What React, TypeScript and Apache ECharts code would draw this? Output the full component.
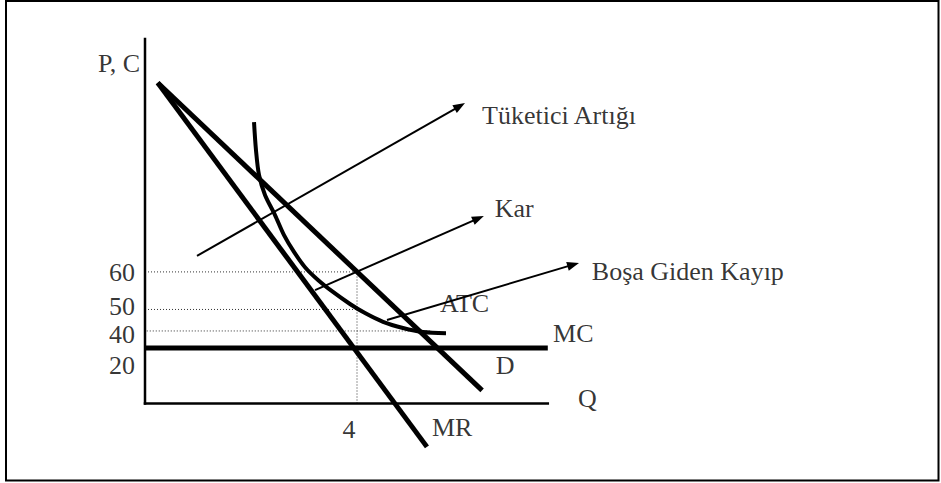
import React, { useEffect, useRef } from "react";
import * as echarts from "echarts";

// Schematic monopoly diagram. Quantity (Q) and price/cost (P, C) in diagram units.
const Q_AXIS_END = 7.6;
const P_AXIS_END = 100;
const Q_VIEW_MAX = 13;

const axisQ = [[0, 0], [Q_AXIS_END, 0]];
const axisP = [[0, 0], [0, P_AXIS_END]];
const demandD = [[0.24, 88], [6.36, 3.6]];
const marginalRevenueMR = [[0.24, 88], [5.32, -11.9]];
const marginalCostMC = [[0, 15.2], [7.6, 15.2]];
const averageTotalCostATC = [
  [2.057, 77.2], [2.094, 69.5], [2.151, 62.7], [2.264, 57.2], [2.453, 51.7],
  [2.623, 46.2], [2.811, 41.6], [3.019, 37.4], [3.264, 33.9], [3.547, 30.6],
  [3.868, 27.3], [4.151, 24.8], [4.491, 22.4], [4.868, 20.7], [5.245, 19.6],
  [5.679, 19.3],
];

const guide60 = [[0, 36.1], [4, 36.1]];
const guide50 = [[0, 25.8], [4, 25.8]];
const guide40 = [[-0.08, 19.9], [5.4, 19.9]];
const guideQ4 = [[4, 0], [4, 36.1]];

// Tick labels on the price axis (right-aligned)
const yTickLabels = ["60", "50", "40", "20"];
const yTickAnchors = [[-0.19, 36.0], [-0.19, 26.7], [-0.19, 18.9], [-0.19, 10.3]];
const axisTitleP = { text: "P, C", at: [-0.094, 93.4] };
// Tick label on the quantity axis (centered)
const xTickLabels = ["4"];
const xTickAnchors = [[3.85, -7.1]];
// Curve and area labels (left-aligned)
const curveLabels = ["MR", "Q", "D", "MC", "ATC", "Kar", "Tüketici Artığı", "Boşa Giden Kayıp"];
const curveLabelAnchors = [
  [5.415, -6.7], [8.17, 1.5], [6.62, 10.3], [7.7, 19.1], [5.566, 27.3],
  [6.6, 53.4], [6.36, 79.1], [8.43, 36.3],
];
// Annotation arrows: from -> to
const arrowFrom = [[0.981, 40.5], [3.208, 31.1], [4.566, 22.9]];
const arrowTo = [[5.94, 81.6], [6.29, 50.8], [8.08, 38.1]];

const FONT = "Liberation Serif, Times New Roman, serif";

export default function App() {
  const ref = useRef<HTMLDivElement>(null);
  useEffect(() => {
    if (!ref.current) return;
    const chart = echarts.init(ref.current, undefined, { renderer: "svg" });
    const thick = (data: number[][], width: number) => ({
      type: "line",
      data,
      symbol: "none",
      clip: false,
      silent: true,
      z: 3,
      smooth: false,
      lineStyle: { color: "#000", width, cap: "butt", join: "miter" },
    });
    const dotted = (data: number[][]) => ({
      type: "line",
      data,
      symbol: "none",
      clip: false,
      silent: true,
      z: 1,
      lineStyle: { color: "#333", width: 1, type: [1, 2] },
    });
    const labelSeries = (texts: string[], anchors: number[][], align: string) => ({
      type: "scatter",
      clip: false,
      silent: true,
      symbolSize: 0.1,
      itemStyle: { color: "rgba(0,0,0,0)" },
      z: 5,
      data: texts.map((t, i) => ({ name: t, value: anchors[i] })),
      label: {
        show: true,
        position: "inside",
        align,
        verticalAlign: "middle",
        formatter: (p: any) => p.name,
        color: "#000",
        fontFamily: FONT,
        fontSize: 26,
      },
    });
    chart.setOption({
      animation: false,
      backgroundColor: "#fff",
      grid: { left: 145, top: 39, width: 53 * Q_VIEW_MAX, height: 364.5, containLabel: false },
      xAxis: {
        type: "value",
        min: 0,
        max: Q_VIEW_MAX,
        axisLine: { show: false },
        axisTick: { show: false },
        axisLabel: { show: false },
        splitLine: { show: false },
      },
      yAxis: {
        type: "value",
        min: 0,
        max: P_AXIS_END,
        axisLine: { show: false },
        axisTick: { show: false },
        axisLabel: { show: false },
        splitLine: { show: false },
      },
      graphic: [
        {
          type: "rect",
          shape: { x: 6, y: 1, width: 932.5, height: 479.5 },
          style: { fill: "none", stroke: "#000", lineWidth: 2 },
          silent: true,
          z: 10,
        },
      ],
      series: [
        dotted(guide60),
        dotted(guide50),
        dotted(guide40),
        dotted(guideQ4),
        { ...thick(axisQ, 2.5), lineStyle: { color: "#000", width: 2.5, cap: "square" } },
        { ...thick(axisP, 2.5), lineStyle: { color: "#000", width: 2.5, cap: "square" } },
        thick(marginalCostMC, 5),
        thick(demandD, 5),
        thick(marginalRevenueMR, 5),
        { ...thick(averageTotalCostATC, 4), smooth: 0.3 },
        {
          type: "line",
          data: [],
          clip: false,
          silent: true,
          z: 4,
          markLine: {
            silent: true,
            symbol: ["none", "triangle"],
            symbolSize: [9, 12],
            label: { show: false },
            lineStyle: { color: "#000", width: 2, type: "solid" },
            emphasis: { disabled: true },
            data: arrowFrom.map((f, i) => [
              { coord: f },
              { coord: arrowTo[i] },
            ]),
          },
        },
        labelSeries(yTickLabels, yTickAnchors, "right"),
        labelSeries([axisTitleP.text], [axisTitleP.at], "right"),
        labelSeries(xTickLabels, xTickAnchors, "center"),
        labelSeries(curveLabels, curveLabelAnchors, "left"),
      ],
    });
    return () => chart.dispose();
  }, []);
  return (
    <div
      ref={ref}
      style={{ position: "fixed", left: 0, top: 0, width: 941, height: 483, background: "#fff" }}
    />
  );
}
